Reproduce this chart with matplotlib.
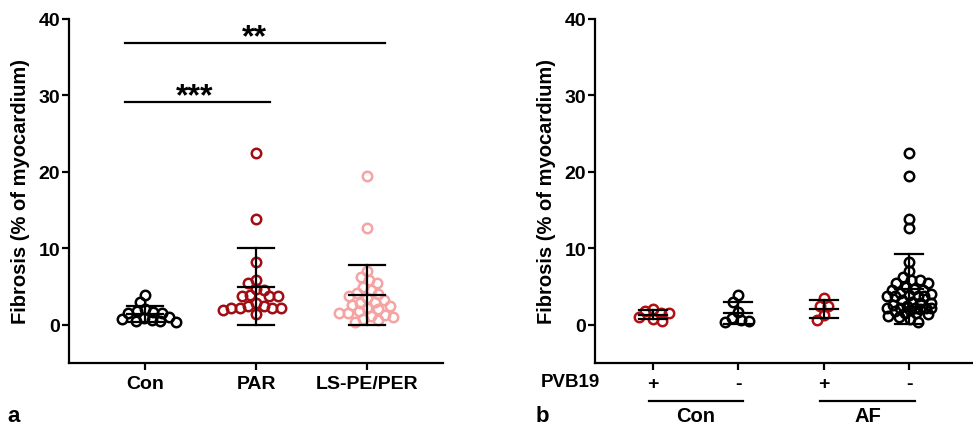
import numpy as np
import matplotlib
matplotlib.use("Agg")
import matplotlib.pyplot as plt
from matplotlib.transforms import blended_transform_factory

plt.rcParams['font.family'] = ['Liberation Sans', 'DejaVu Sans']
plt.rcParams['font.weight'] = 'bold'

# Fibrosis values (% of myocardium)
con_pos = [2.0, 1.8, 1.6, 1.5, 1.0, 0.8, 0.5]
con_neg = [3.9, 3.0, 1.7, 0.9, 0.6, 0.45, 0.35]
par = [22.5, 13.8, 8.2, 5.9, 5.5, 4.7, 4.6, 3.9, 3.7, 3.7, 3.7, 2.8,
       2.5, 2.5, 2.2, 2.2, 2.2, 2.2, 1.9, 1.4]
ls_pe_per = [19.4, 12.6, 7.0, 6.2, 5.8, 5.4, 5.0, 4.5, 4.2, 4.0, 3.8, 3.5,
             3.2, 3.0, 2.9, 2.6, 2.4, 2.2, 2.0, 1.8, 1.6, 1.5, 1.3, 1.2,
             1.0, 0.8, 0.6, 0.4]
af_pos = [3.5, 2.5, 2.5, 1.3, 0.6]

# AF PVB19- = all AF patients (PAR + LS-PE/PER) minus the PVB19+ ones
af_neg = list(par) + list(ls_pe_per)
for v in af_pos:
    af_neg.remove(v)

con_all = con_pos + con_neg

left_labels = ["Con", "PAR", "LS-PE/PER"]
left_groups = [con_all, par, ls_pe_per]
left_colors = ["black", "#a00d12", "#f5a3a3"]

right_labels = ["+", "-", "+", "-"]
right_groups = [con_pos, con_neg, af_pos, af_neg]
right_colors = ["#b30f14", "black", "#b30f14", "black"]

W, H = 973, 427
fig = plt.figure(figsize=(W / 100, H / 100), dpi=100)
ax1 = fig.add_axes([69 / W, 1 - 364 / H, (443 - 69) / W, (364 - 20) / H])
ax2 = fig.add_axes([595 / W, 1 - 364 / H, (973 - 595) / W, (364 - 20) / H])


def swarm(values, diam, px_x, px_y, lim):
    # beeswarm in pixels; beyond +-lim the points are allowed to overlap
    placed = []
    offs = np.zeros(len(values))
    grid = np.linspace(-lim, lim, 41)
    for i in np.argsort(values)[::-1]:
        y = values[i] * px_y
        spans = []
        for xp, yp in placed:
            dy = abs(y - yp)
            if dy < diam:
                w = np.sqrt(diam ** 2 - dy ** 2)
                spans.append((xp - w, xp + w))
        cands = [0.0] + [a for a, b in spans] + [b for a, b in spans]
        cands.sort(key=abs)
        pick = None
        for c in cands:
            if all(not (a + 1e-6 < c < b - 1e-6) for a, b in spans):
                pick = c
                break
        if pick is None or abs(pick) > lim:
            pts = np.array(placed)
            d = np.sqrt((grid[:, None] - pts[:, 0]) ** 2 +
                        (y - pts[:, 1]) ** 2).min(axis=1)
            score = d - 0.05 * np.abs(grid)
            pick = grid[np.argmax(score)]
        placed.append((pick, y))
        offs[i] = pick / px_x
    return offs


def draw_panel(ax, groups, colors, xlim, cap, lim):
    ax.set_xlim(*xlim)
    ax.set_ylim(-5, 40)
    bb = ax.get_position()
    px_x = bb.width * W / (xlim[1] - xlim[0])
    px_y = bb.height * H / 45.0
    for i, (vals, col) in enumerate(zip(groups, colors)):
        vals = np.array(vals, dtype=float)
        offs = swarm(vals, 8.5, px_x, px_y, lim)
        ax.plot(i + offs, vals, 'o', ms=6.8, mfc='none', mec=col, mew=1.8,
                zorder=3)
        m = vals.mean()
        sd = vals.std(ddof=1)
        ax.plot([i, i], [m - sd, m + sd], color='black', lw=1.6, zorder=4)
        for yy in (m - sd, m, m + sd):
            ax.plot([i - cap, i + cap], [yy, yy], color='black', lw=1.6,
                    zorder=4)
    for s in ('top', 'right'):
        ax.spines[s].set_visible(False)
    for s in ('left', 'bottom'):
        ax.spines[s].set_linewidth(1.6)
    ax.set_yticks([0, 10, 20, 30, 40])
    ax.tick_params(axis='both', length=5, width=1.6, labelsize=14)
    ax.tick_params(axis='x', pad=4)
    ax.tick_params(axis='y', pad=1.5)
    ax.set_ylabel("Fibrosis (% of myocardium)", fontsize=14.5,
                  fontweight='bold', labelpad=6)
    for t in ax.get_yticklabels() + ax.get_xticklabels():
        t.set_fontweight('bold')


# Panel a
draw_panel(ax1, left_groups, left_colors, (-0.685, 2.685), 0.16, 36)
ax1.set_xticks(range(3))
ax1.set_xticklabels(left_labels, fontweight='bold', fontsize=14)

# significance bars
ax1.plot([-0.18, 2.16], [36.9, 36.9], color='black', lw=1.6)
ax1.text(0.99, 36.9 - 0.3, "**", ha='center', va='baseline', fontsize=23,
         fontweight='bold')
ax1.plot([-0.18, 1.13], [29.1, 29.1], color='black', lw=1.6)
ax1.text(0.45, 29.1 - 0.3, "***", ha='center', va='baseline', fontsize=23,
         fontweight='bold')

# Panel b
draw_panel(ax2, right_groups, right_colors, (-0.68, 3.75), 0.165, 22)
ax2.set_xticks(range(4))
ax2.set_xticklabels(right_labels, fontweight='bold', fontsize=14)

# group brackets under the PVB19 row
tr = blended_transform_factory(ax2.transData, ax2.transAxes)
y_line = (364 - 402) / 344
y_group = (364 - 422) / 344
ax2.plot([-0.05, 1.06], [y_line, y_line], color='black', lw=1.6,
         transform=tr, clip_on=False)
ax2.plot([1.96, 3.07], [y_line, y_line], color='black', lw=1.6,
         transform=tr, clip_on=False)
ax2.text(0.5, y_group, "Con", transform=tr, ha='center', va='baseline',
         fontsize=14.5, fontweight='bold')
ax2.text(2.52, y_group, "AF", transform=tr, ha='center', va='baseline',
         fontsize=14.5, fontweight='bold')

fig.text(600 / W, 1 - 383 / H, "PVB19", ha='right', va='center',
         fontsize=13.5, fontweight='bold')
fig.text(7 / W, 1 - 422 / H, "a", ha='left', va='baseline', fontsize=16,
         fontweight='bold')
fig.text(536 / W, 1 - 422 / H, "b", ha='left', va='baseline', fontsize=16,
         fontweight='bold')

fig.savefig("out.png", dpi=100)
